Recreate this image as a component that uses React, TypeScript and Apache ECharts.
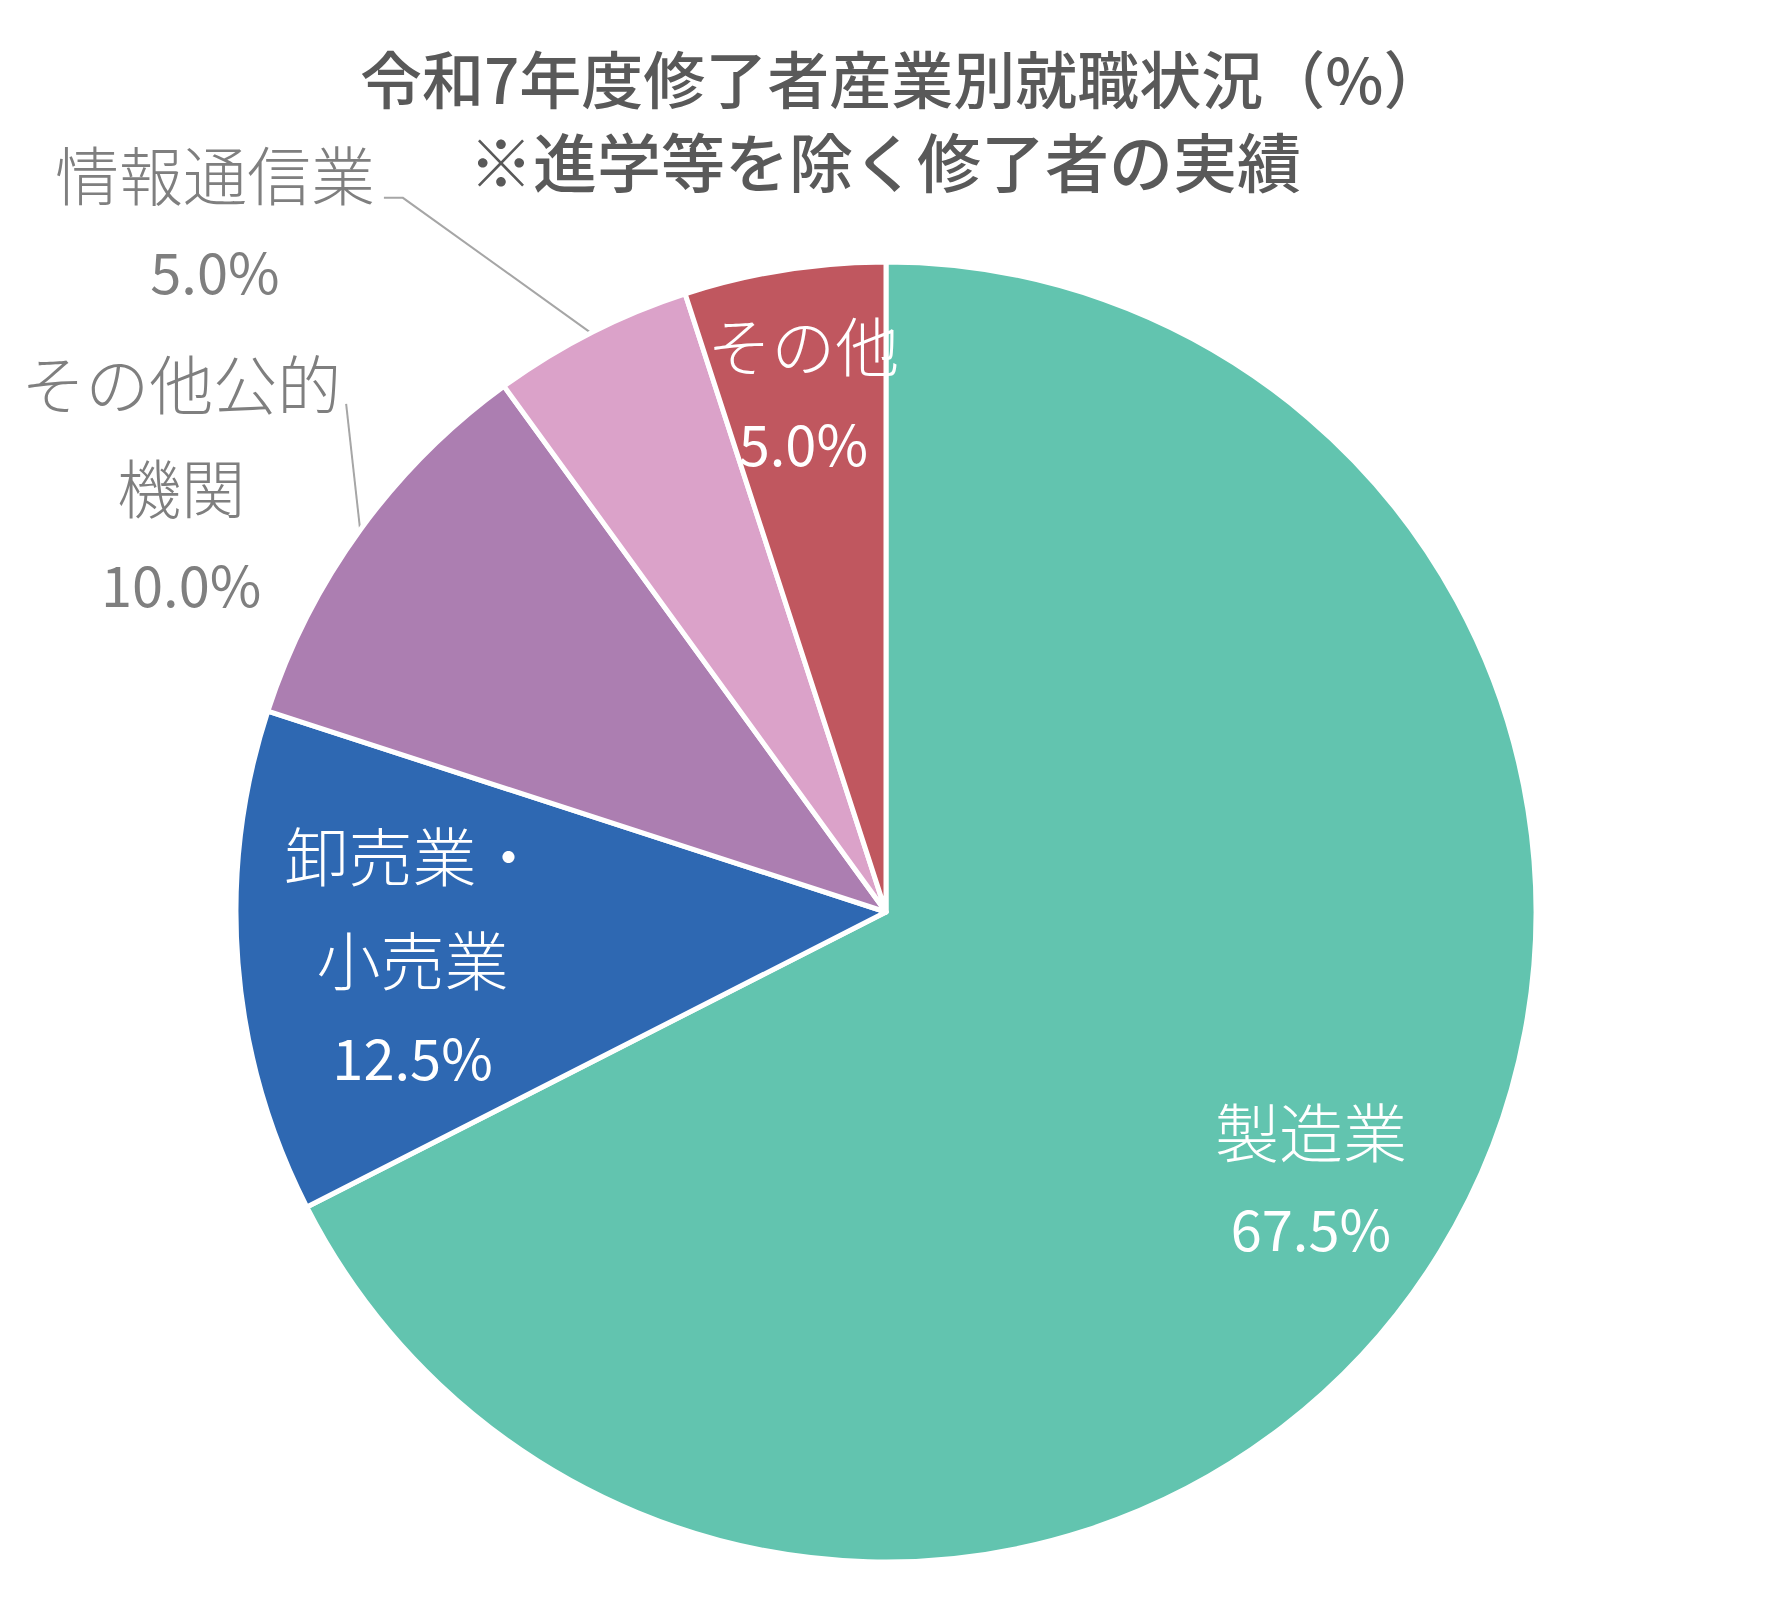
import React, { useEffect, useRef } from 'react';
import * as echarts from 'echarts';

// ---- data ----
const titleLines = ['令和7年度修了者産業別就職状況（%）', '※進学等を除く修了者の実績'];
const categories = ['製造業', '卸売業・\n小売業', 'その他公的\n機関', '情報通信業', 'その他'];
const shares = [67.5, 12.5, 10.0, 5.0, 5.0];
const sliceColors = ['#62C4AF', '#2E68B2', '#AC7EB1', '#DBA2C9', '#C0575F'];
const labelInside = [true, true, false, false, true];

// ---- layout / style ----
const FONT = '"Noto Sans CJK JP", "Noto Sans", sans-serif';
const CENTER: [number, number] = [886, 912];
const RADIUS = 650;
const LABEL_RING = 1000; // transparent helper pie: "inside" labels land at ~0.77 R
const insideNudge: Record<number, number[]> = { 0: [-4, 0], 1: [28, 0], 4: [-4, -26] };
const outsideLayout: Record<number, { line: number[][]; label: number[] }> = {
  2: { line: [[-14, -126]], label: [-179, -51] },
  3: { line: [[-188, -135], [-207, -135]], label: [-376, -115] },
};
const titleTops = [40, 122];
const titleLefts: (number | string)[] = [360, 'center'];
const titleSizes = [62, 64];

const rich = {
  n: { fontSize: 64, lineHeight: 104, align: 'center', fontFamily: FONT, fontWeight: 300 },
  v: { fontSize: 56, lineHeight: 92, align: 'center', fontFamily: FONT, fontWeight: 400 },
};

const formatLabel = (p: any) =>
  String(p.name)
    .split('\n')
    .map((s: string) => `{n|${s}}`)
    .join('\n') + `\n{v|${Number(p.value).toFixed(1)}%}`;

export default function App() {
  const ref = useRef<HTMLDivElement>(null);

  useEffect(() => {
    if (!ref.current) return;
    const chart = echarts.init(ref.current, undefined, { renderer: 'svg' });

    const option: any = {
      animation: false,
      backgroundColor: '#ffffff',
      title: titleLines.map((text, i) => ({
        text,
        left: titleLefts[i],
        top: titleTops[i],
        padding: 0,
        textStyle: {
          fontSize: titleSizes[i],
          fontWeight: 500,
          color: '#595959',
          lineHeight: 74,
          fontFamily: FONT,
        },
      })),
      series: [
        {
          type: 'pie',
          center: CENTER,
          radius: [0, RADIUS],
          startAngle: 90,
          clockwise: true,
          avoidLabelOverlap: false,
          silent: true,
          itemStyle: { borderColor: '#ffffff', borderWidth: 5 },
          label: { show: false },
          labelLine: { show: false },
          data: categories.map((name, i) => ({
            name,
            value: shares[i],
            itemStyle: { color: sliceColors[i] },
            label: labelInside[i]
              ? { show: false }
              : {
                  show: true,
                  position: 'outside',
                  color: '#7F7F7F',
                  fontFamily: FONT,
                  formatter: formatLabel,
                  rich,
                },
            labelLine: labelInside[i]
              ? { show: false }
              : { show: true, length: 60, length2: 20, lineStyle: { color: '#A6A6A6', width: 2 } },
          })),
          labelLayout: (params: any) => {
            const cfg = outsideLayout[params.dataIndex];
            const pts = params.labelLinePoints;
            if (!cfg || !pts || !pts[0]) return {};
            const [x0, y0] = pts[0];
            return {
              x: x0 + cfg.label[0],
              y: y0 + cfg.label[1],
              align: 'center',
              verticalAlign: 'middle',
              labelLinePoints: [[x0, y0], ...cfg.line.map(([dx, dy]) => [x0 + dx, y0 + dy])],
            };
          },
        },
        {
          type: 'pie',
          center: CENTER,
          radius: [0, LABEL_RING],
          startAngle: 90,
          clockwise: true,
          avoidLabelOverlap: false,
          silent: true,
          itemStyle: { color: 'rgba(0,0,0,0)', borderWidth: 0 },
          labelLine: { show: false },
          label: {
            show: true,
            position: 'inside',
            color: '#ffffff',
            fontFamily: FONT,
            formatter: formatLabel,
            rich,
          },
          data: categories.map((name, i) => ({
            name,
            value: shares[i],
            label: { show: labelInside[i], offset: insideNudge[i] || [0, 0] },
          })),
        },
      ],
    };

    chart.setOption(option);
    return () => chart.dispose();
  }, []);

  return (
    <div
      ref={ref}
      style={{ position: 'fixed', left: 0, top: 0, width: 1770, height: 1615, background: '#fff' }}
    />
  );
}
